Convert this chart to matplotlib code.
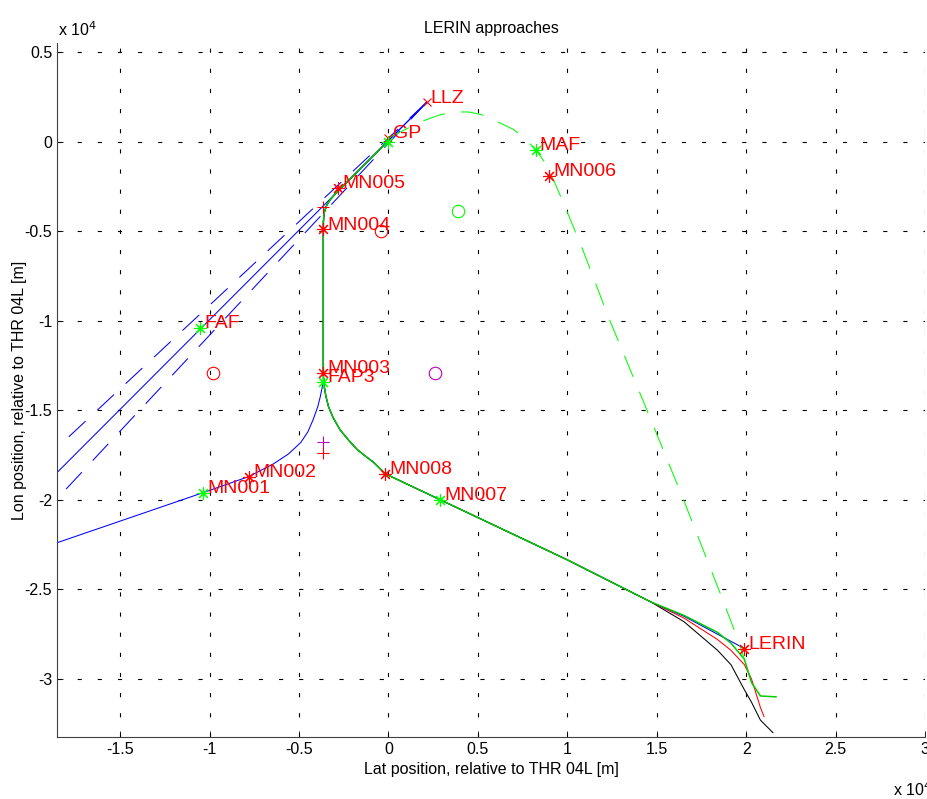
import numpy as np
import matplotlib
matplotlib.use("Agg")
from matplotlib import pyplot as plt
from matplotlib.ticker import FuncFormatter

plt.rcParams['font.family'] = ['Liberation Sans', 'DejaVu Sans']
plt.rcParams['lines.scale_dashes'] = False

# positions in metres, relative to THR 04L
# shared part of the arrival tracks (from ~1.47e4 back to GP)
common_lat = [14670, 10000, 2900, -170, -840, -1300, -1740, -2200, -2700, -3100, -3350, -3500, -3600, -3640,
              -3640, -3600, -3450, -3250, -3000, -2800, 0]
common_lon = [-25700, -23350, -20000, -18550, -17900, -17550, -17200, -16700, -16100, -15400, -14800, -14200,
              -13600, -13000, -4500, -4000, -3550, -3240, -2950, -2750, 50]

# individual track ends near LERIN
black_lat = [21500, 20800, 20300, 19900, 19150, 18400, 16520]
black_lon = [-33000, -32300, -31300, -30600, -29200, -28400, -26800]
red_lat = [21000, 20800, 20300, 19900, 19150, 18400, 16520]
red_lon = [-32100, -31600, -30000, -29200, -28400, -27800, -26600]
blue_lat = [19900, 18400, 16520]
blue_lon = [-28300, -27500, -26500]
green_lat = [21670, 20800, 20300, 19900, 19150, 18400, 16520]
green_lon = [-31000, -30950, -30200, -28900, -28000, -27400, -26450]

# western arrival via MN001 / MN002
west_lat = [-20000, -10360, -7800, -6440, -5600, -4900, -4500, -4200, -3950, -3800, -3700, -3640,
            -3640, -3600, -3450, -3250, -3000, -2800, 0, 2130]
west_lon = [-22900, -19600, -18700, -18000, -17450, -16800, -16200, -15500, -14800, -14200, -13700, -13300,
            -4900, -4000, -3550, -3240, -2950, -2750, 50, 2180]

# missed approach
missed_lat = [0, 1000, 1800, 2900, 3800, 4500, 5200, 5900, 7000, 7700, 8230, 8700, 9300, 9900, 10860,
              12300, 14500, 16500, 18700, 19500, 19900]
missed_lon = [200, 700, 1100, 1500, 1650, 1650, 1500, 1200, 670, 100, -450, -1100, -2300, -3700, -6030,
              -9800, -15100, -20000, -25600, -27700, -28900]

# localizer centre line and corridor
loc_lat = [2130, -20000]
loc_centre = [2180, -19950]
loc_upper = [2180, -18470]
loc_lower = [2180, -21520]

# waypoints
wp_names = ['LLZ', 'GP', 'MN005', 'MN004', 'MN003', 'FAP3', 'FAF', 'MN001', 'MN002',
            'MN008', 'MN007', 'MAF', 'MN006', 'LERIN']
wp_lat = [2130, 0, -2800, -3640, -3640, -3640, -10530, -10360, -7800, -170, 2900, 8230, 9000, 19900]
wp_lon = [2180, 200, -2570, -4900, -12900, -13400, -10400, -19600, -18700, -18550, -20000, -450, -1900, -28300]
wp_marker = ['x', 'x', '*', '*', '*', 'g*', 'g*', 'g*', '*', '*', 'g*', 'g*', '*', '*']

extra_plus_lat = [-3640, -3640, -3640]
extra_plus_lon = [-3630, -16800, -17400]
extra_plus_col = ['r', 'm', 'r']

circ_lat = [-400, 3900, -9800, 2600]
circ_lon = [-4970, -3900, -12900, -12900]
circ_col = ['r', (0, 1, 0), 'r', 'm']

fig = plt.figure(figsize=(9.28, 7.99), dpi=100)
ax = fig.add_axes([57/928, 62/799, 868/928, 694/799])

lw = 0.75
dash = (0, (16.5, 11.5))

ax.plot(loc_lat, loc_centre, color='b', lw=lw)
ax.plot(loc_lat, loc_upper, color='b', lw=lw, linestyle=dash)
ax.plot(loc_lat, loc_lower, color='b', lw=lw, linestyle=dash)

ax.plot(west_lat, west_lon, color='b', lw=lw)
ax.plot(black_lat + common_lat, black_lon + common_lon, color='k', lw=lw)
ax.plot(red_lat + common_lat, red_lon + common_lon, color='r', lw=lw)
ax.plot(blue_lat + common_lat, blue_lon + common_lon, color='b', lw=lw)
ax.plot(green_lat + common_lat, green_lon + common_lon, color=(0, 0.8, 0), lw=1.1)
ax.plot(missed_lat, missed_lon, color=(0, 1, 0), lw=lw, linestyle=dash)

star = (8, 2, 0)
for name, x, y, mk in zip(wp_names, wp_lat, wp_lon, wp_marker):
    if mk == 'x':
        ax.plot(x, y, 'x', color='r', ms=6, mew=0.8)
    elif mk == 'g*':
        ax.plot(x, y, marker=star, color=(0, 1, 0), ms=9, mew=0.8, linestyle='none')
    else:
        ax.plot(x, y, marker=star, color='r', ms=9, mew=0.8, linestyle='none')
    ax.annotate(name, (x, y), xytext=(3, 3), textcoords='offset points',
                ha='left', va='center', color='r', fontsize=14)

ax.plot(0, 0, marker=star, color=(0, 1, 0), ms=9, mew=0.8, linestyle='none')
for x, y, c in zip(extra_plus_lat, extra_plus_lon, extra_plus_col):
    ax.plot(x, y, '+', color=c, ms=9, mew=0.8)
for x, y, c in zip(circ_lat, circ_lon, circ_col):
    ax.plot(x, y, 'o', mfc='none', mec=c, ms=9, mew=0.8)

ax.set_xlim(-18530, 30000)
ax.set_ylim(-33240, 5500)
ax.set_xticks(np.arange(-15000, 30001, 5000))
ax.set_yticks(np.arange(-30000, 5001, 5000))
fmt = FuncFormatter(lambda v, p: '%g' % (v / 1e4))
ax.xaxis.set_major_formatter(fmt)
ax.yaxis.set_major_formatter(fmt)
ax.tick_params(direction='in', length=4, labelsize=11.5, width=0.6)
ax.grid(True, color='k', lw=0.8, linestyle=(0, (3, 11.5)))
for s in ['top', 'right']:
    ax.spines[s].set_visible(False)
for s in ['left', 'bottom']:
    ax.spines[s].set_linewidth(0.8)
    ax.spines[s].set_color('#404040')

ax.set_title('LERIN approaches', fontsize=11.5, pad=7.5)
ax.set_xlabel('Lat position, relative to THR 04L [m]', fontsize=11.5, labelpad=4)
ax.set_ylabel('Lon position, relative to THR 04L [m]', fontsize=11.5, labelpad=-2)
fig.text(58/928, 1 - 30/799, r'x 10$^{4}$', fontsize=11.5, va='center')
fig.text(893/928, 1 - 790/799, r'x 10$^{4}$', fontsize=11.5, va='center')

fig.savefig('out.png', dpi=100)
